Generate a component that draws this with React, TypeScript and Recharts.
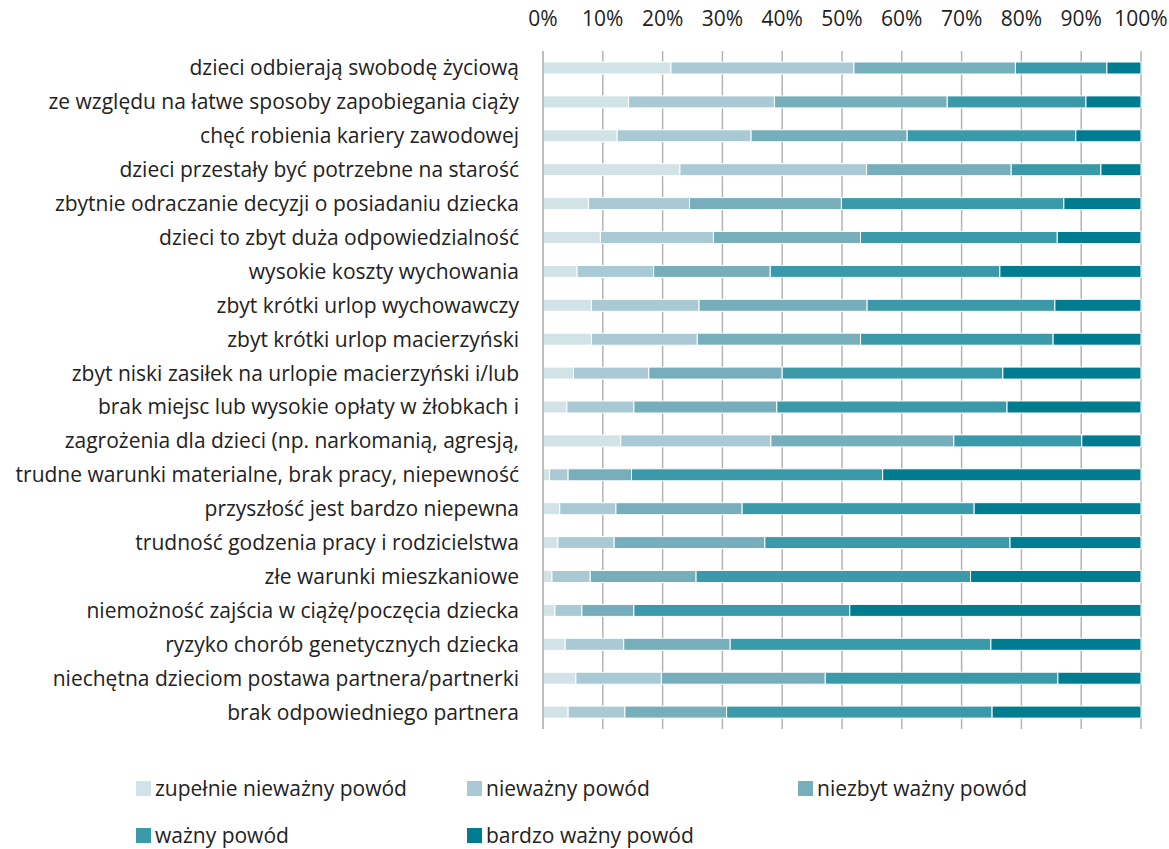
import React from "react";
import { BarChart, Bar, XAxis, YAxis, CartesianGrid, Legend } from "recharts";

const categories = [
  "dzieci odbierają swobodę życiową",
  "ze względu na łatwe sposoby zapobiegania ciąży",
  "chęć robienia kariery zawodowej",
  "dzieci przestały być potrzebne na starość",
  "zbytnie odraczanie decyzji o posiadaniu dziecka",
  "dzieci to zbyt duża odpowiedzialność",
  "wysokie koszty wychowania",
  "zbyt krótki urlop wychowawczy",
  "zbyt krótki urlop macierzyński",
  "zbyt niski zasiłek na urlopie macierzyński i/lub",
  "brak miejsc lub wysokie opłaty w żłobkach i",
  "zagrożenia dla dzieci (np. narkomanią, agresją,",
  "trudne warunki materialne, brak pracy, niepewność",
  "przyszłość jest bardzo niepewna",
  "trudność godzenia pracy i rodzicielstwa",
  "złe warunki mieszkaniowe",
  "niemożność zajścia w ciążę/poczęcia dziecka",
  "ryzyko chorób genetycznych dziecka",
  "niechętna dzieciom postawa partnera/partnerki",
  "brak odpowiedniego partnera",
];

const zupelnieNiewazny = [21.4, 14.3, 12.4, 22.9, 7.6, 9.6, 5.7, 8.1, 8.1, 5.1, 4.0, 13.0, 1.1, 2.8, 2.5, 1.5, 2.0, 3.7, 5.5, 4.2];
const niewazny = [30.6, 24.4, 22.4, 31.2, 16.9, 18.9, 12.8, 18.0, 17.7, 12.6, 11.2, 25.1, 3.1, 9.4, 9.4, 6.4, 4.5, 9.8, 14.3, 9.5];
const niezbytWazny = [27.0, 28.9, 26.1, 24.2, 25.4, 24.6, 19.5, 28.1, 27.3, 22.3, 23.9, 30.6, 10.6, 21.1, 25.2, 17.7, 8.7, 17.8, 27.4, 17.0];
const wazny = [15.3, 23.2, 28.2, 15.0, 37.2, 32.9, 38.4, 31.4, 32.2, 36.9, 38.5, 21.4, 42.0, 38.8, 41.0, 45.9, 36.1, 43.6, 38.9, 44.4];
const bardzoWazny = [5.7, 9.2, 10.9, 6.7, 12.9, 14.0, 23.6, 14.4, 14.7, 23.1, 22.4, 9.9, 43.2, 27.9, 21.9, 28.5, 48.7, 25.1, 13.9, 24.9];

const xTicks = [0, 10, 20, 30, 40, 50, 60, 70, 80, 90, 100];

const seriesNames = ["zupełnie nieważny powód", "nieważny powód", "niezbyt ważny powód", "ważny powód", "bardzo ważny powód"];
const seriesKeys = ["s1", "s2", "s3", "s4", "s5"];
const seriesColors = ["#d2e3e7", "#a9cad4", "#76afbb", "#3a9aa9", "#007c91"];

const data = categories.map((c, i) => ({
  name: c,
  s1: zupelnieNiewazny[i],
  s2: niewazny[i],
  s3: niezbytWazny[i],
  s4: wazny[i],
  s5: bardzoWazny[i],
}));

const FONT = "'Open Sans', sans-serif";

const renderLegend = () => (
  <div
    style={{
      display: "grid",
      gridTemplateColumns: "331px 331px 331px",
      rowGap: "23px",
      marginLeft: "136px",
      fontFamily: FONT,
      fontSize: "21px",
      color: "#222",
    }}
  >
    {seriesNames.map((n, i) => (
      <div key={n} style={{ display: "flex", alignItems: "center", height: "24px" }}>
        <span style={{ width: 15, height: 15, background: seriesColors[i], display: "inline-block", marginRight: 4 }} />
        <span>{n}</span>
      </div>
    ))}
  </div>
);

export default function App() {
  return (
    <div style={{ position: "absolute", left: 0, top: 0, width: 1169, height: 849, background: "#fff" }}>
      <BarChart
        width={1169}
        height={849}
        data={data}
        layout="vertical"
        margin={{ top: 0, right: 28, bottom: 49, left: 0 }}
        barCategoryGap={0}
      >
        <CartesianGrid vertical={true} horizontal={false} stroke="#b4b4b4" strokeWidth={1.5} />
        <XAxis
          type="number"
          orientation="top"
          domain={[0, 100]}
          ticks={xTicks}
          interval={0}
          height={51}
          axisLine={false}
          tickLine={false}
          tickFormatter={(v: number) => `${v}%`}
          tick={{ fill: "#222", fontSize: 21, fontFamily: FONT }}
          tickMargin={19}
        />
        <YAxis
          type="category"
          dataKey="name"
          width={543}
          interval={0}
          tickLine={false}
          tickSize={0}
          tickMargin={24}
          axisLine={{ stroke: "#bdbdbd", strokeWidth: 2 }}
          tick={{ fill: "#222", fontSize: 21, fontFamily: FONT }}
        />
        {seriesKeys.map((k, i) => (
          <Bar
            key={k}
            dataKey={k}
            name={seriesNames[i]}
            stackId="a"
            fill={seriesColors[i]}
            stroke="#ffffff"
            strokeWidth={1}
            barSize={12}
            isAnimationActive={false}
          />
        ))}
        <Legend
          content={renderLegend}
          verticalAlign="bottom"
          wrapperStyle={{ left: 0, top: 776, width: 1169 }}
        />
      </BarChart>
    </div>
  );
}
